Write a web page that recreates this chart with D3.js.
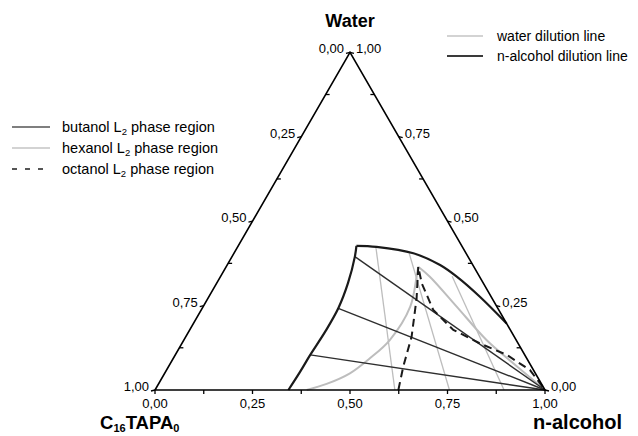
<!DOCTYPE html>
<html>
<head>
<meta charset="utf-8">
<script src="https://cdn.jsdelivr.net/npm/d3@7"></script>
<style>
  body { margin: 0; background: #fff; }
  text { font-family: "Liberation Sans", Arial, Helvetica, sans-serif; }
</style>
</head>
<body>
<svg id="chart" width="638" height="436"></svg>
<script>
// Compositions are [n-alcohol fraction, water fraction]; C16TAPA0 is the remainder.
const majorTicks = [0, 0.25, 0.5, 0.75, 1];
const minorTicks = [0.125, 0.375, 0.625, 0.875];
const tickLabels = ["0,00", "0,25", "0,50", "0,75", "1,00"];

// butanol L2 region: surfactant-rich side and upper (water-rich) boundary
const butanolLeft = [[0.342, 0], [0.345, 0.053], [0.346, 0.104], [0.350, 0.172],
  [0.349, 0.242], [0.3365, 0.317], [0.315, 0.395], [0.303, 0.427]];
const butanolTop = [[0.303, 0.427], [0.356, 0.424], [0.460, 0.405], [0.546, 0.370],
  [0.606, 0.3355], [0.695, 0.276], [0.803, 0.197]];

// n-alcohol dilution lines run from these boundary points to pure n-alcohol
const alcoholDilutionStarts = [[0.315, 0.395], [0.349, 0.242], [0.346, 0.104]];

// water dilution lines: alcohol fraction on the water-free base, water at upper end
const waterDilutionBase = [0.615, 0.755, 0.895];
const waterDilutionTop = [0.425, 0.405, 0.337];

// hexanol L2 region
const hexanolRise = [[0.389, 0], [0.431, 0.018], [0.475, 0.0495], [0.504, 0.094],
  [0.528, 0.148], [0.531, 0.247], [0.503, 0.3355], [0.4925, 0.365]];
const hexanolFall = [[0.4925, 0.365], [0.537, 0.3355], [0.650, 0.247], [0.776, 0.148],
  [0.879, 0.079], [1, 0]];

// octanol L2 region
const octanolBoundary = [[0.624, 0], [0.602, 0.069], [0.579, 0.158], [0.535, 0.2715],
  [0.4925, 0.365], [0.526, 0.316], [0.595, 0.237], [0.676, 0.178], [0.764, 0.138],
  [0.850, 0.104], [0.932, 0.059], [1, 0]];

const svg = d3.select("#chart");

// base runs from pure C16TAPA0 (left) to pure n-alcohol (right); height is water
const xBase = d3.scaleLinear().domain([0, 1]).range([155, 545]);
const yWater = d3.scaleLinear().domain([0, 1]).range([390, 52.3]);
const px = p => xBase(p[0] + p[1] / 2);
const py = p => yWater(p[1]);

const smooth = d3.line().x(px).y(py).curve(d3.curveCatmullRom.alpha(0.5));
const straight = d3.line().x(px).y(py);

const DARK = "#1a1a1a", MID = "#2e2e2e", LIGHT = "#bdbdbd";
const TICK_FONT = 13;

// ---- water dilution lines
waterDilutionBase.forEach((a0, i) => {
  const wTop = waterDilutionTop[i];
  svg.append("path")
    .attr("d", straight([[a0, 0], [a0 * (1 - wTop), wTop]]))
    .attr("fill", "none").attr("stroke", LIGHT).attr("stroke-width", 1.3);
});

// ---- hexanol region
[hexanolRise, hexanolFall].forEach(seg => {
  svg.append("path").attr("d", smooth(seg))
    .attr("fill", "none").attr("stroke", LIGHT).attr("stroke-width", 2);
});

// ---- n-alcohol dilution lines
alcoholDilutionStarts.forEach(p => {
  svg.append("path").attr("d", straight([p, [1, 0]]))
    .attr("fill", "none").attr("stroke", MID).attr("stroke-width", 1.4);
});

// ---- octanol region
svg.append("path").attr("d", straight(octanolBoundary))
  .attr("fill", "none").attr("stroke", DARK).attr("stroke-width", 2)
  .attr("stroke-dasharray", "8,5");

// ---- butanol region
[butanolLeft, butanolTop].forEach(seg => {
  svg.append("path").attr("d", smooth(seg))
    .attr("fill", "none").attr("stroke", DARK).attr("stroke-width", 2.2)
    .attr("stroke-linejoin", "round");
});

// ---- triangle frame
const corners = [[0, 0], [1, 0], [0, 1]];
svg.append("path").attr("d", straight(corners) + "Z")
  .attr("fill", "none").attr("stroke", "#000").attr("stroke-width", 1.6);

const tick = (x1, y1, x2, y2) => svg.append("line")
  .attr("x1", x1).attr("y1", y1).attr("x2", x2).attr("y2", y2)
  .attr("stroke", "#000").attr("stroke-width", 1.3);

// bottom axis: n-alcohol fraction
majorTicks.concat(minorTicks).forEach(v => {
  const p = [v, 0];
  tick(px(p), py(p), px(p), py(p) + 4);
});
majorTicks.forEach((v, i) => {
  svg.append("text").attr("x", xBase(v)).attr("y", 408)
    .attr("text-anchor", "middle").attr("font-size", TICK_FONT).text(tickLabels[i]);
});

// left axis: C16TAPA0 fraction (0 at apex, 1 at lower left)
majorTicks.forEach((s, i) => {
  const p = [0, 1 - s];
  tick(px(p), py(p), px(p) - 4, py(p) + 1);
  svg.append("text").attr("x", px(p) - 6).attr("y", py(p) + 1)
    .attr("text-anchor", "end").attr("font-size", TICK_FONT).text(tickLabels[i]);
});
minorTicks.forEach(s => {
  const p = [0, 1 - s];
  tick(px(p), py(p), px(p) + 4, py(p));
});

// right axis: water fraction (0 at lower right, 1 at apex)
majorTicks.forEach((w, i) => {
  const p = [1 - w, w];
  tick(px(p), py(p), px(p) + 4, py(p) + 1);
  svg.append("text").attr("x", px(p) + 6).attr("y", py(p) + 1)
    .attr("text-anchor", "start").attr("font-size", TICK_FONT).text(tickLabels[i]);
});
minorTicks.forEach(w => {
  const p = [1 - w, w];
  tick(px(p), py(p), px(p) - 4, py(p));
});

// ---- component names
svg.append("text").attr("x", 350).attr("y", 27).attr("text-anchor", "middle")
  .attr("font-size", 18).attr("font-weight", "bold").text("Water");

svg.append("text").attr("x", 622).attr("y", 429).attr("text-anchor", "end")
  .attr("font-size", 20).attr("font-weight", "bold").text("n-alcohol");

const surf = svg.append("text").attr("x", 100).attr("y", 429)
  .attr("font-size", 18.5).attr("font-weight", "bold");
surf.append("tspan").text("C");
surf.append("tspan").attr("font-size", 11).attr("dy", 3).text("16");
surf.append("tspan").attr("dy", -3).text("TAPA");
surf.append("tspan").attr("font-size", 11).attr("dy", 3).text("0");

// ---- legends
const regionLegend = [
  { name: "butanol", color: "#555", dash: null, width: 1.5 },
  { name: "hexanol", color: "#c4c4c4", dash: null, width: 1.5 },
  { name: "octanol", color: "#555", dash: "5,8", width: 2 }
];
regionLegend.forEach((d, i) => {
  const y = 127 + i * 21;
  svg.append("line").attr("x1", 12).attr("x2", 50).attr("y1", y).attr("y2", y)
    .attr("stroke", d.color).attr("stroke-width", d.width)
    .attr("stroke-dasharray", d.dash);
  const t = svg.append("text").attr("x", 62).attr("y", y + 5).attr("font-size", 14.5);
  t.append("tspan").text(d.name + " L");
  t.append("tspan").attr("font-size", 9.5).attr("dy", 3).text("2");
  t.append("tspan").attr("dy", -3).text(" phase region");
});

const dilutionLegend = [
  { label: "water dilution line", color: "#c4c4c4", width: 1.3 },
  { label: "n-alcohol dilution line", color: "#3a3a3a", width: 2 }
];
dilutionLegend.forEach((d, i) => {
  const y = 36 + i * 20;
  svg.append("line").attr("x1", 447).attr("x2", 483).attr("y1", y).attr("y2", y)
    .attr("stroke", d.color).attr("stroke-width", d.width);
  svg.append("text").attr("x", 497).attr("y", y + 5).attr("font-size", 14)
    .text(d.label);
});
</script>
</body>
</html>
